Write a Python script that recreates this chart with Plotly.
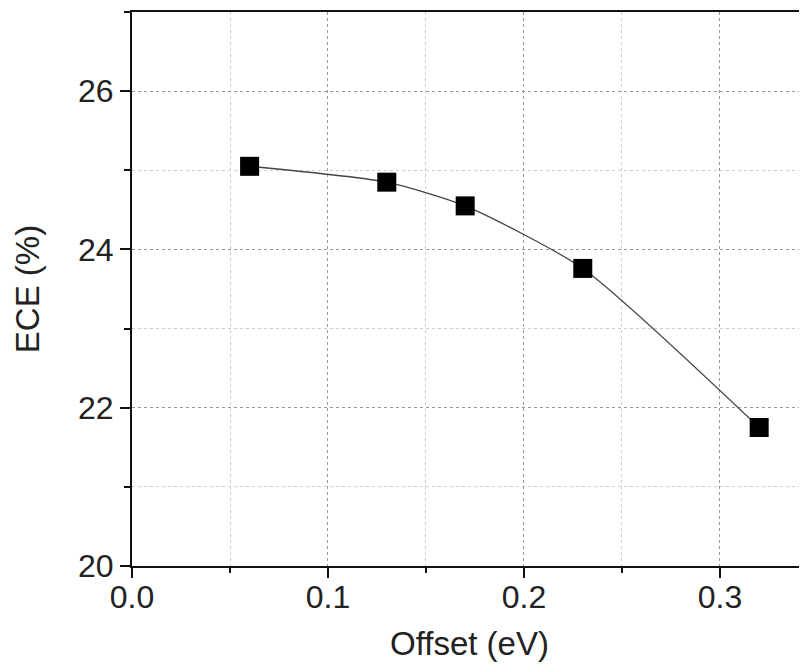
import plotly.graph_objects as go

offset_ev = [0.06, 0.13, 0.17, 0.23, 0.32]
ece_pct = [25.05, 24.85, 24.55, 23.76, 21.75]
x_tick_vals = [0.0, 0.1, 0.2, 0.3]
x_tick_text = ["0.0", "0.1", "0.2", "0.3"]
y_tick_vals = [20, 22, 24, 26]
y_tick_text = ["20", "22", "24", "26"]

fig = go.Figure()
fig.add_trace(go.Scatter(
    x=offset_ev, y=ece_pct, mode="lines+markers",
    line=dict(color="#444444", width=1.3, shape="spline", smoothing=0.6),
    marker=dict(symbol="square", size=19, color="black"),
    showlegend=False,
))

font = "Liberation Sans, Arial, sans-serif"
# page body adds an 8px offset; margins compensate for it
fig.update_layout(
    width=807, height=666,
    margin=dict(l=124, r=8, t=4, b=108),
    plot_bgcolor="white", paper_bgcolor="white",
    font=dict(family=font, color="#222222"),
)
fig.update_xaxes(
    range=[0, 0.3444], tickvals=x_tick_vals, ticktext=x_tick_text,
    automargin=False,
    showline=True, linecolor="#111111", linewidth=2, mirror=True,
    ticks="outside", ticklen=10, tickwidth=2, tickcolor="#111111",
    ticklabelstandoff=-8,
    tickfont=dict(size=32, family=font, color="#222222"),
    showgrid=True, gridcolor="#999999", griddash="dot", gridwidth=1,
    zeroline=False,
    minor=dict(dtick=0.05, tick0=0, ticks="outside", ticklen=5, tickwidth=2,
               tickcolor="#111111", showgrid=True, gridcolor="#cccccc",
               griddash="dot", gridwidth=1),
    title=dict(text="Offset (eV)", font=dict(size=33, family=font, color="#222222"), standoff=17),
)
fig.update_yaxes(
    range=[20, 27], tickvals=y_tick_vals, ticktext=y_tick_text,
    automargin=False,
    showline=True, linecolor="#111111", linewidth=2, mirror=False,
    ticks="outside", ticklen=10, tickwidth=2, tickcolor="#111111",
    tickfont=dict(size=32, family=font, color="#222222"),
    showgrid=True, gridcolor="#999999", griddash="dot", gridwidth=1,
    zeroline=False,
    minor=dict(dtick=1, tick0=20, ticks="outside", ticklen=6, tickwidth=2,
               tickcolor="#111111", showgrid=True, gridcolor="#cccccc",
               griddash="dot", gridwidth=1),
    title=dict(text="ECE (%)", font=dict(size=33, family=font, color="#222222"), standoff=28),
)

fig.write_html("out.html")
